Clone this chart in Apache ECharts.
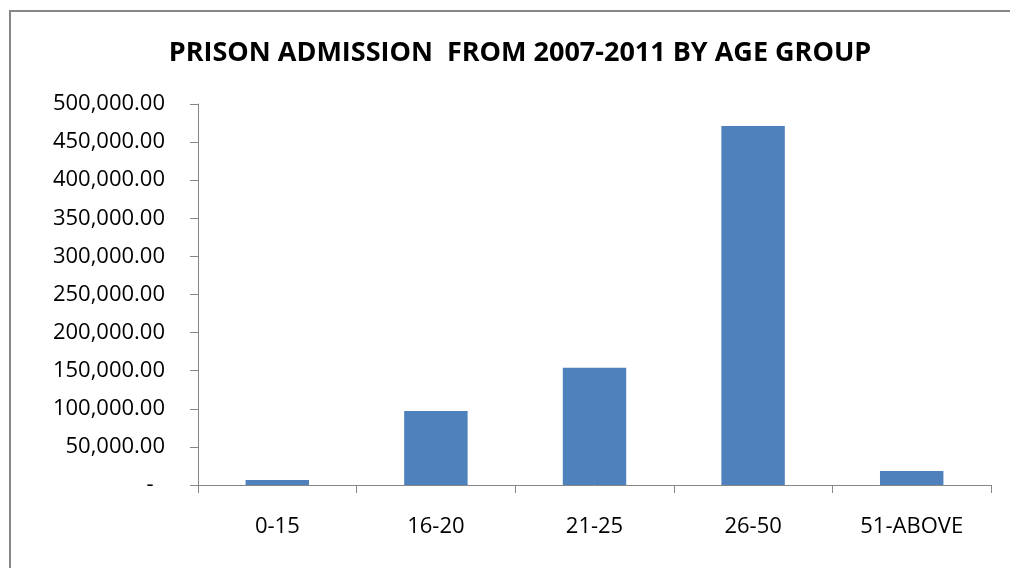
<!DOCTYPE html>
<html>
<head>
<meta charset="utf-8">
<script src="https://cdn.jsdelivr.net/npm/echarts@6/dist/echarts.min.js"></script>
<style>
html,body{margin:0;padding:0;background:#fff;}
#chart{width:1010px;height:568px;}
</style>
</head>
<body>
<div id="chart"></div>
<script>
var chartTitle = 'PRISON ADMISSION  FROM 2007-2011 BY AGE GROUP';
var categories = ['0-15', '16-20', '21-25', '26-50', '51-ABOVE'];
var admissions = [6500, 97000, 154000, 471000, 18500];
var yMin = 0, yMax = 500000, yStep = 50000;

function fmt(v) {
  if (v === 0) return '-  ';
  var s = Math.round(v).toString().replace(/\B(?=(\d{3})+(?!\d))/g, ',');
  return s + '.00';
}

var chart = echarts.init(document.getElementById('chart'), null, {renderer: 'canvas'});
var axisColor = '#868686';
var fontFam = '"Open Sans", "Liberation Sans", sans-serif';
chart.setOption({
  animation: false,
  backgroundColor: '#ffffff',
  graphic: [{
    type: 'rect',
    shape: {x: 10, y: 11, width: 1200, height: 800},
    style: {fill: 'none', stroke: '#878787', lineWidth: 2},
    silent: true
  }],
  title: {
    text: chartTitle,
    left: 515,
    textAlign: 'center',
    top: 35,
    textStyle: {fontFamily: fontFam, fontWeight: 'bold', fontSize: 27, color: '#000'}
  },
  grid: {left: 198, right: 19, top: 104, bottom: 83},
  xAxis: {
    type: 'category',
    data: categories,
    axisLine: {lineStyle: {color: axisColor, width: 1}},
    axisTick: {show: true, length: 8, alignWithLabel: false, lineStyle: {color: axisColor}},
    axisLabel: {margin: 31, fontFamily: fontFam, fontSize: 22, color: '#000'},
    splitLine: {show: false}
  },
  yAxis: {
    type: 'value',
    min: yMin, max: yMax, interval: yStep,
    axisLine: {show: true, lineStyle: {color: axisColor, width: 1}},
    axisTick: {show: true, length: 8, lineStyle: {color: axisColor}},
    axisLabel: {margin: 33, fontFamily: fontFam, fontSize: 22, color: '#000', formatter: fmt},
    splitLine: {show: false}
  },
  series: [{
    type: 'bar',
    data: admissions,
    barWidth: '40%',
    itemStyle: {color: '#4F81BD'}
  }]
});
</script>
</body>
</html>
